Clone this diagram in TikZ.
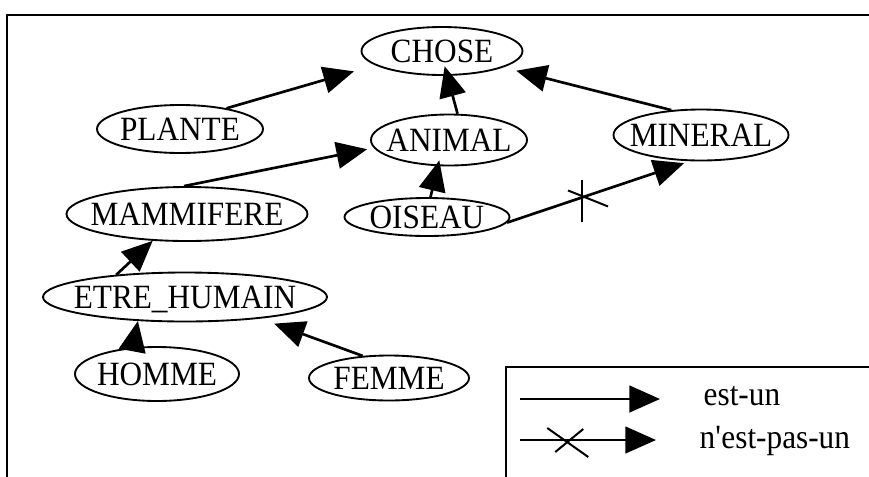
\documentclass[tikz,border=0pt]{standalone}
\usepackage{fontspec}
\setmainfont{Liberation Serif}[FakeStretch=0.92]
\usetikzlibrary{shapes.geometric, arrows.meta}

\tikzset{
  concept/.style={ellipse, draw, line width=1.4pt, inner sep=0pt, inner xsep=-12pt,
    text height=16.9pt, text depth=0pt},
  estun/.style={line width=2pt, -{Triangle[length=23pt,width=20pt]}},
  croix/.style={line width=1.5pt},
}

\begin{document}
\begin{tikzpicture}[x=0.75pt, y=-0.75pt, font=\fontsize{25.5}{30}\selectfont]
  \useasboundingbox (0,0) rectangle (869,476);
  % cadre
  \draw[line width=2.2pt] (7,480) -- (7,15) -- (875,15);

  % concepts
  \foreach \nm/\cx/\cy/\w/\h/\l in {chose/442/51/161/48/CHOSE, plante/180/129/166/48/PLANTE,
      animal/449/140/156/51/ANIMAL, mineral/701/135/175/51/MINERAL,
      mammifere/187/214/241/54/MAMMIFERE, oiseau/427/217/165/38/OISEAU,
      etre/185/297/284/49/{ETRE\_HUMAIN}, homme/157/374/164/54/HOMME,
      femme/389/378/160/45/FEMME} {
    \node[concept, minimum width=\w*0.75pt, minimum height=\h*0.75pt] (\nm) at (\cx,\cy) {\l};
  }

  % est-un
  \foreach \a/\as/\b/\bs/\s in {plante/24/chose/192/16.5pt, animal/72/chose/282/-7.5pt,
      mineral/140/chose/345/10pt, mammifere/96/animal/186/5pt, oiseau/80/animal/247/-4.5pt,
      etre/162/mammifere/218/0pt, homme/132/etre/207/0pt, femme/140/etre/344/11pt} {
    \draw[estun, shorten >=\s] (\a.\as) -- (\b.\bs);
  }

  % n'est-pas-un
  \draw[estun, shorten >=4.5pt] (oiseau.356) -- coordinate[pos=0.41] (barre) (mineral.247);
  \draw[croix] (barre) ++(0,-17) -- ++(0,42);
  \draw[croix] (barre) ++(-14,-7) -- ++(40,16);

  % legende
  \draw[line width=1.5pt] (506,480) -- (506,367) -- (875,367);
  \coordinate (e1) at (520,399);
  \coordinate (e2) at (660,399);
  \draw[estun] (e1) -- (e2);
  \node[anchor=base west] (lestun) at (699,405) {est-un};
  \coordinate (n1) at (520,440);
  \coordinate (n2) at (656,440);
  \draw[estun] (n1) -- coordinate[pos=0.355] (lcroix) (n2);
  \draw[croix] (lcroix) ++(-21,-12) -- ++(41,29);
  \draw[croix] (lcroix) ++(-13,12) -- ++(28,-23);
  \node[anchor=base west] (lnestpas) at (695,448) {n\textquotesingle est-pas-un};
\end{tikzpicture}
\end{document}
